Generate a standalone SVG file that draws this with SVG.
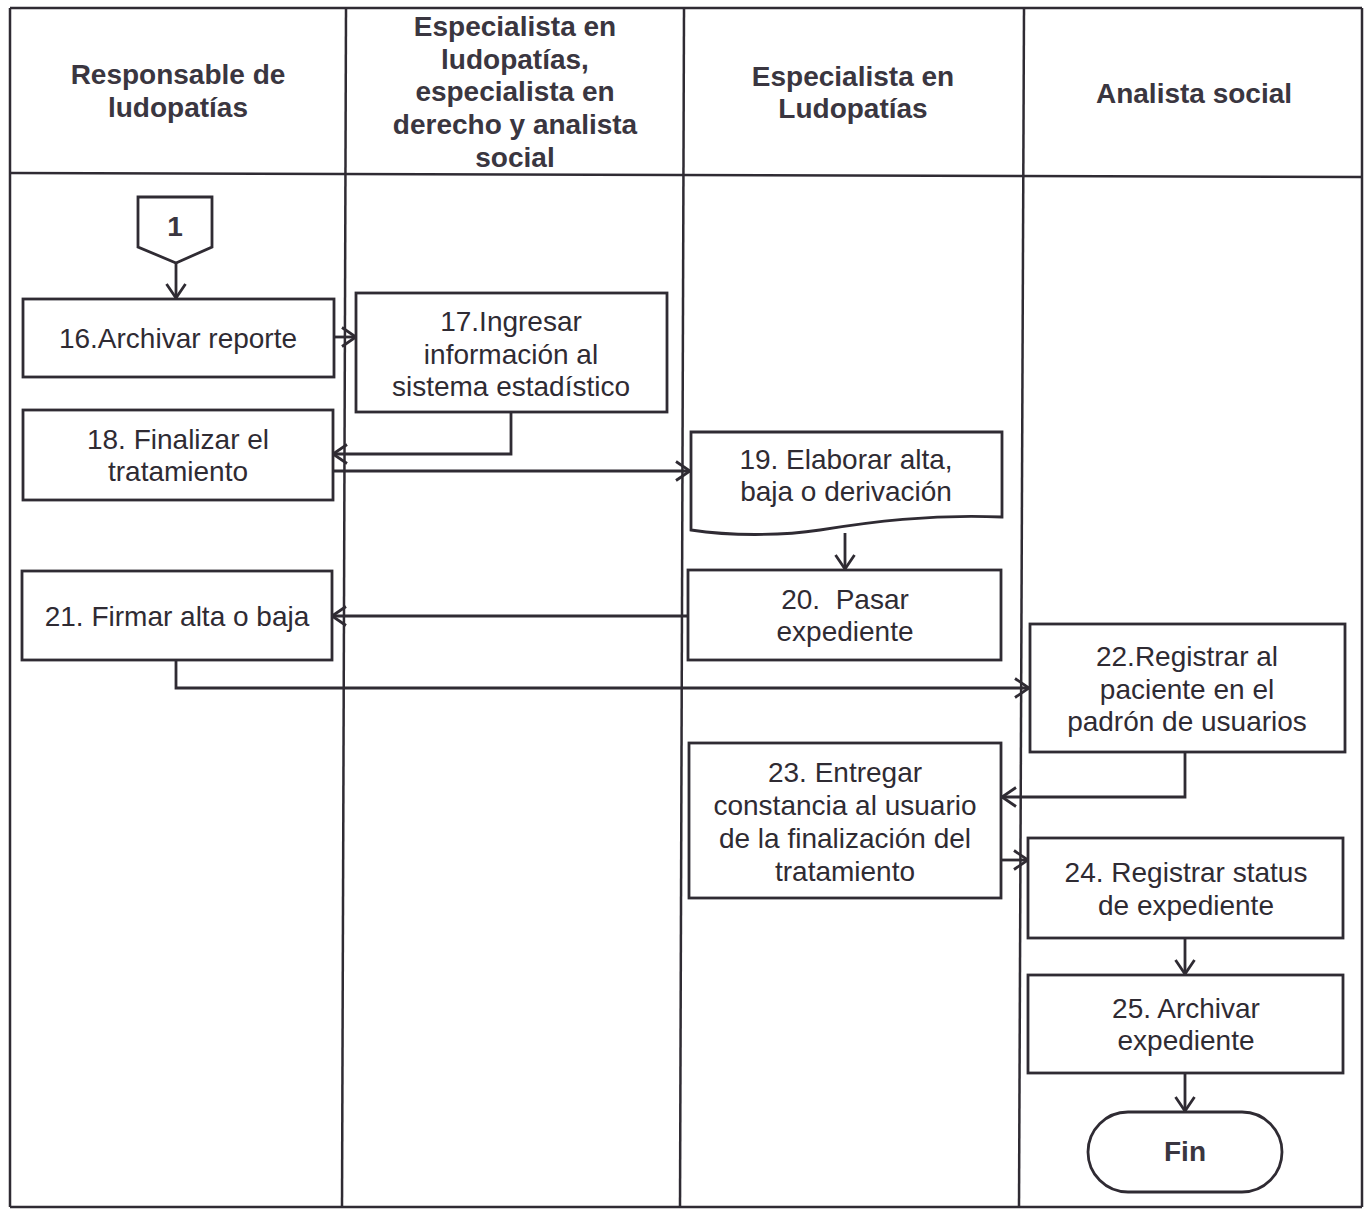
<svg xmlns="http://www.w3.org/2000/svg" width="1364" height="1209" viewBox="0 0 1364 1209">
<style>
.lane{stroke:#2f2b33;stroke-width:2.5;fill:none}
.box{stroke:#2f2b33;stroke-width:2.8;fill:#fff}
.con{stroke:#2f2b33;stroke-width:2.8;fill:none}
.h{font-family:"Liberation Sans",Arial,sans-serif;font-weight:bold;font-size:28px;fill:#3a3640;text-anchor:middle}
.t{font-family:"Liberation Sans",Arial,sans-serif;font-size:28px;fill:#2f2b33;text-anchor:middle;white-space:pre}
</style>
<defs>
<marker id="ah" viewBox="0 0 17 22" refX="15.5" refY="11" markerWidth="17" markerHeight="22" markerUnits="userSpaceOnUse" orient="auto">
<path d="M1.5,1.5 L15.5,11 L1.5,20.5" fill="none" stroke="#2f2b33" stroke-width="2.8"/>
</marker>
</defs>
<rect width="1364" height="1209" fill="#fff"/>
<g id="table">
<path class="lane" d="M10,8 L1362,8 M10,8 L10,1207 M10,1207 L1362,1207 M1362,8 L1362,1207" stroke-width="3"/>
<path class="lane" d="M10,173 L1362,177"/>
<path class="lane" d="M346,8 L342,1207"/>
<path class="lane" d="M684,8 L680,1207"/>
<path class="lane" d="M1024,8 L1019,1207"/>
</g>
<g id="headers">
<text class="h" x="178" y="84">Responsable de</text>
<text class="h" x="178" y="117">ludopatías</text>
<text class="h" x="515" y="36">Especialista en</text>
<text class="h" x="515" y="69">ludopatías,</text>
<text class="h" x="515" y="101">especialista en</text>
<text class="h" x="515" y="134">derecho y analista</text>
<text class="h" x="515" y="167">social</text>
<text class="h" x="853" y="86">Especialista en</text>
<text class="h" x="853" y="118">Ludopatías</text>
<text class="h" x="1194" y="103">Analista social</text>
</g>
<g id="connectors">
<path class="con" d="M176,263 L176,298" marker-end="url(#ah)"/>
<path class="con" d="M334,337 L356,337" marker-end="url(#ah)"/>
<path class="con" d="M511,412 L511,454 L333,454" marker-end="url(#ah)"/>
<path class="con" d="M333,471 L690,471" marker-end="url(#ah)"/>
<path class="con" d="M845,533 L845,569" marker-end="url(#ah)"/>
<path class="con" d="M688,616 L332,616" marker-end="url(#ah)"/>
<path class="con" d="M176,660 L176,688 L1029,688" marker-end="url(#ah)"/>
<path class="con" d="M1185,752 L1185,797 L1002,797" marker-end="url(#ah)"/>
<path class="con" d="M1001,860 L1028,860" marker-end="url(#ah)"/>
<path class="con" d="M1185,938 L1185,974" marker-end="url(#ah)"/>
<path class="con" d="M1185,1073 L1185,1111" marker-end="url(#ah)"/>
</g>
<g id="n1">
<path class="box" d="M138,197 L212,197 L212,247 L176,263 L138,247 Z"/>
<text class="h" x="175" y="236" font-size="26">1</text>
</g>
<g id="n16">
<rect class="box" x="23" y="299" width="311" height="78"/>
<text class="t" x="178" y="348">16.Archivar reporte</text>
</g>
<g id="n17">
<rect class="box" x="356" y="293" width="311" height="119"/>
<text class="t" x="511" y="331">17.Ingresar</text>
<text class="t" x="511" y="364">información al</text>
<text class="t" x="511" y="396">sistema estadístico</text>
</g>
<g id="n18">
<rect class="box" x="23" y="410" width="310" height="90"/>
<text class="t" x="178" y="449">18. Finalizar el</text>
<text class="t" x="178" y="481">tratamiento</text>
</g>
<g id="n19">
<path class="box" d="M691,432 L1002,432 L1002,517 C930,514 870,522 820,530 C780,536 730,536 691,530 Z"/>
<text class="t" x="846" y="469">19. Elaborar alta,</text>
<text class="t" x="846" y="501">baja o derivación</text>
</g>
<g id="n20">
<rect class="box" x="688" y="570" width="313" height="90"/>
<text class="t" x="845" y="609" xml:space="preserve">20.  Pasar</text>
<text class="t" x="845" y="641">expediente</text>
</g>
<g id="n21">
<rect class="box" x="22" y="571" width="310" height="89"/>
<text class="t" x="177" y="626">21. Firmar alta o baja</text>
</g>
<g id="n22">
<rect class="box" x="1030" y="624" width="315" height="128"/>
<text class="t" x="1187" y="666">22.Registrar al</text>
<text class="t" x="1187" y="699">paciente en el</text>
<text class="t" x="1187" y="731">padrón de usuarios</text>
</g>
<g id="n23">
<rect class="box" x="689" y="743" width="312" height="155"/>
<text class="t" x="845" y="782">23. Entregar</text>
<text class="t" x="845" y="815">constancia al usuario</text>
<text class="t" x="845" y="848">de la finalización del</text>
<text class="t" x="845" y="881">tratamiento</text>
</g>
<g id="n24">
<rect class="box" x="1028" y="838" width="315" height="100"/>
<text class="t" x="1186" y="882">24. Registrar status</text>
<text class="t" x="1186" y="915">de expediente</text>
</g>
<g id="n25">
<rect class="box" x="1028" y="975" width="315" height="98"/>
<text class="t" x="1186" y="1018">25. Archivar</text>
<text class="t" x="1186" y="1050">expediente</text>
</g>
<g id="fin">
<rect class="box" x="1088" y="1112" width="194" height="80" rx="40" ry="40"/>
<text class="h" x="1185" y="1161">Fin</text>
</g>
</svg>
